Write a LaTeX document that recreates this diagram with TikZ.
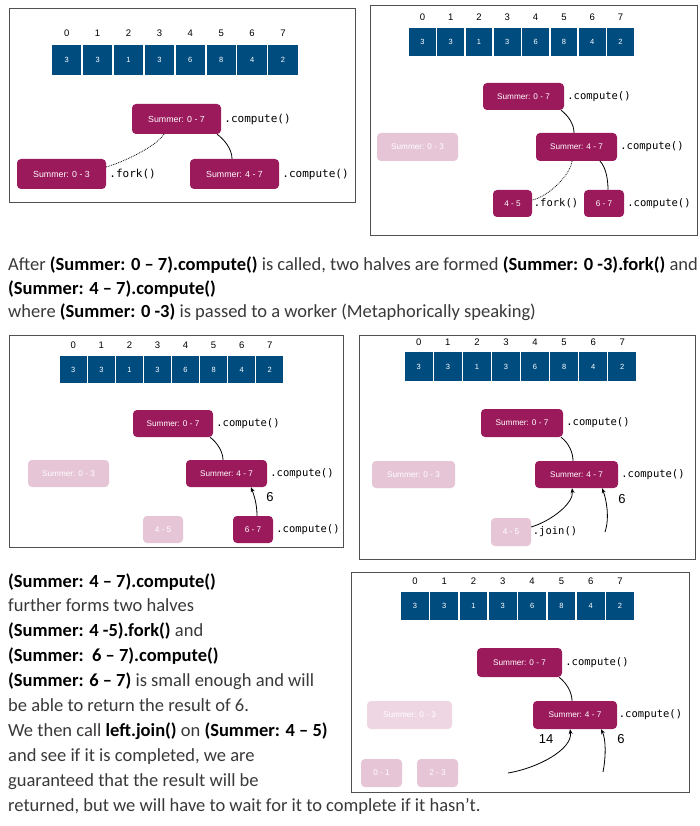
\documentclass[tikz,border=0pt]{standalone}
\usepackage{fontspec}
\setmainfont{Carlito}
\newfontfamily\helv{Liberation Sans}
\newfontfamily\monof{DejaVu Sans Mono}
\usetikzlibrary{calc,arrows.meta}
\definecolor{cellblue}{RGB}{0,76,127}
\definecolor{summag}{RGB}{155,26,92}
\definecolor{sumfade}{RGB}{230,197,215}
\definecolor{sumfadeb}{RGB}{238,214,227}
\definecolor{txtgray}{RGB}{59,56,56}
\definecolor{framegray}{RGB}{80,80,80}
\newcommand\bk[1]{{\color{black}\bfseries #1}}
\newcommand\cellrow[7]{%
  \foreach \v [count=\i from 0] in {3,3,1,3,6,8,4,2}{%
    \node[cell, minimum width=#4, minimum height=#5] (#1c\i) at ({#2+#4/2+\i*#6},{#3+#5/2}) {\v};
    \node[idx] (#1i\i) at ({#2+#4/2+\i*#6},#7) {\i};
  }}
\tikzset{
  cell/.style={fill=cellblue, text=white, inner sep=0pt, font=\helv\fontsize{7.5}{8}\selectfont},
  idx/.style={inner sep=0pt, font=\helv\fontsize{9.5}{10}\selectfont},
  sm/.style={fill=summag, rounded corners=4pt, text=white, inner sep=0pt, font=\helv\fontsize{8.2}{9}\selectfont},
  fd/.style={sm, fill=sumfade},
  fdb/.style={sm, fill=sumfadeb},
  meth/.style={anchor=west, inner sep=0pt, font=\monof\fontsize{10.5}{12}\selectfont},
  frm/.style={draw=framegray, line width=1pt},
  conn/.style={line width=0.8pt},
  dotconn/.style={line width=0.8pt, densely dotted},
  arr/.style={line width=0.8pt, -{Stealth[length=5pt,width=4pt]}},
  num/.style={inner sep=0pt, font=\helv\fontsize{13}{14}\selectfont},
  para/.style={anchor=base west, inner sep=0pt, text=txtgray, font=\fontsize{18.5}{22}\selectfont}
}
\begin{document}
\begin{tikzpicture}[x=1pt,y=-1pt]
\useasboundingbox (0,0) rectangle (699,826);
\fill[white] (0,0) rectangle (699,826);

% ---------- Panel 1 ----------
\draw[frm] (9,9) rectangle (355,203);
\cellrow{p1}{52}{45}{29.4}{30}{30.9}{33}
\node[sm, minimum width=89, minimum height=30, font=\helv\fontsize{8.8}{10}\selectfont] (a07) at (176.5,119) {Summer: 0 - 7};
\node[sm, minimum width=89, minimum height=30, font=\helv\fontsize{8.8}{10}\selectfont] (a03) at (61.5,174) {Summer: 0 - 3};
\node[sm, minimum width=89, minimum height=30, font=\helv\fontsize{8.8}{10}\selectfont] (a47) at (234.5,174) {Summer: 4 - 7};
\node[meth, font=\monof\fontsize{11}{12}\selectfont] (a07m) at ([xshift=3pt]a07.east) {.compute()};
\node[meth, font=\monof\fontsize{11}{12}\selectfont] (a03m) at ([xshift=3pt]a03.east) {.fork()};
\node[meth, font=\monof\fontsize{11}{12}\selectfont] (a47m) at ([xshift=3pt]a47.east) {.compute()};
\draw[dotconn] ([xshift=-12.5pt]a07.south) .. controls +(-8,12) and +(20,-6) .. ([yshift=7pt]a03.east);
\draw[conn] ([xshift=40.5pt]a07.south) .. controls +(7,5) and +(0,-10) .. ([xshift=-2.5pt]a47.north);

% ---------- Panel 2 ----------
\draw[frm] (370,6) rectangle (697,235);
\cellrow{p2}{409}{28}{26.8}{28}{28.3}{17}
\node[sm, minimum width=81, minimum height=27] (b07) at (523.5,96.5) {Summer: 0 - 7};
\node[fd, minimum width=81, minimum height=28] (b03) at (417.5,147) {Summer: 0 - 3};
\node[sm, minimum width=81, minimum height=28] (b47) at (576.5,147) {Summer: 4 - 7};
\node[sm, minimum width=39, minimum height=27] (b45) at (512.5,203.5) {4 - 5};
\node[sm, minimum width=40, minimum height=27] (b67) at (604,203.5) {6 - 7};
\node[meth] (b07m) at ([xshift=3pt]b07.east) {.compute()};
\node[meth] (b47m) at ([xshift=3pt]b47.east) {.compute()};
\node[meth] (b45m) at ([xshift=1.5pt]b45.east) {.fork()};
\node[meth] (b67m) at ([xshift=3pt]b67.east) {.compute()};
\draw[conn] ([xshift=37.5pt]b07.south) .. controls +(8,6) and +(0,-8) .. ([xshift=-2.5pt]b47.north);
\draw[dotconn] ([xshift=-4.5pt]b47.south) .. controls +(-2,15) and +(15,-3) .. ([yshift=3.5pt]b45.east);
\draw[conn] ([xshift=23.5pt]b47.south) .. controls +(6,6) and +(0,-10) .. ([xshift=4pt]b67.north);

% ---------- Panel 3 ----------
\draw[frm] (9,335) rectangle (343,547);
\cellrow{p3}{60}{356}{26.6}{27}{28.06}{345}
\node[sm, minimum width=80, minimum height=27] (c07) at (173,423.5) {Summer: 0 - 7};
\node[fd, minimum width=81, minimum height=27] (c03) at (68.5,473.5) {Summer: 0 - 3};
\node[sm, minimum width=81, minimum height=27] (c47) at (226.5,473.5) {Summer: 4 - 7};
\node[fd, minimum width=40, minimum height=27] (c45) at (163,529.5) {4 - 5};
\node[sm, minimum width=40, minimum height=27] (c67) at (253,529.5) {6 - 7};
\node[meth] (c07m) at ([xshift=3pt]c07.east) {.compute()};
\node[meth] (c47m) at ([xshift=3pt]c47.east) {.compute()};
\node[meth] (c67m) at ([xshift=3pt]c67.east) {.compute()};
\node[num] (c6) at (270,497) {6};
\draw[conn] ([xshift=37pt]c07.south) .. controls +(7,5) and +(0,-8) .. ([xshift=-3.5pt]c47.north);
\draw[arr] ([xshift=4pt]c67.north) .. controls +(0,-12) and +(3,8) .. ([xshift=24.5pt]c47.south);

% ---------- Panel 4 ----------
\draw[frm] (359,335) rectangle (695,559);
\cellrow{p4}{405}{352}{27.6}{29}{29.06}{342}
\node[sm, minimum width=82, minimum height=28] (d07) at (522,423) {Summer: 0 - 7};
\node[fd, minimum width=83, minimum height=27] (d03) at (413.5,474.5) {Summer: 0 - 3};
\node[sm, minimum width=83, minimum height=27] (d47) at (576.5,474.5) {Summer: 4 - 7};
\node[fd, minimum width=40, minimum height=28] (d45) at (511,532) {4 - 5};
\node[meth] (d07m) at ([xshift=3pt]d07.east) {.compute()};
\node[meth] (d47m) at ([xshift=3pt]d47.east) {.compute()};
\node[meth] (d45m) at ([xshift=1.5pt]d45.east) {.join()};
\node[num] (d6) at (622,499) {6};
\coordinate (d6s) at (605,532);
\draw[conn] ([xshift=39pt]d07.south) .. controls +(8,6) and +(0,-8) .. ([xshift=-3.5pt]d47.north);
\draw[arr] ([yshift=5pt]d45.east) .. controls +(20,-6) and +(2,15) .. ([xshift=-4.5pt]d47.south);
\draw[arr] (d6s) .. controls +(5,-15) and +(4,10) .. ([xshift=25.5pt]d47.south);

% ---------- Panel 5 ----------
\draw[frm] (351,572) rectangle (689,792);
\cellrow{p5}{401}{592}{27.8}{28}{29.3}{581}
\node[sm, minimum width=85, minimum height=29] (e07) at (519.5,662.5) {Summer: 0 - 7};
\node[fdb, minimum width=85, minimum height=28] (e03) at (409.5,715) {Summer: 0 - 3};
\node[sm, minimum width=84, minimum height=28] (e47) at (575,715) {Summer: 4 - 7};
\node[fd, minimum width=41, minimum height=28] (e01) at (381.5,773) {0 - 1};
\node[fd, minimum width=41, minimum height=28] (e23) at (437.5,773) {2 - 3};
\node[meth] (e07m) at ([xshift=3pt]e07.east) {.compute()};
\node[meth] (e47m) at ([xshift=1.5pt]e47.east) {.compute()};
\node[num] (e14) at (546,739) {14};
\node[num] (e6) at (621,739) {6};
\coordinate (e14s) at (508,773);
\coordinate (e6s) at (603,772);
\draw[conn] ([xshift=39.5pt]e07.south) .. controls +(8,6) and +(0,-8) .. ([xshift=-3pt]e47.north);
\draw[arr] (e14s) .. controls +(30,-5) and +(3,20) .. ([xshift=-5pt]e47.south);
\draw[arr] (e6s) .. controls +(3,-15) and +(5,10) .. ([xshift=26pt]e47.south);

% ---------- Text ----------
\node[para] (t1) at (8,270) {After \bk{(Summer: 0 – 7).compute()} is called, two halves are formed \bk{(Summer: 0 -3).fork()} and};
\node[para] (t2) at (8,294) {\bk{(Summer: 4 – 7).compute()}};
\node[para] (t3) at (8,317) {where \bk{(Summer: 0 -3)} is passed to a worker (Metaphorically speaking)};

\node[para] (u1) at (8,587) {\bk{(Summer: 4 – 7).compute()}};
\node[para] (u2) at (8,611) {further forms two halves};
\node[para] (u3) at (8,636) {\bk{(Summer: 4 -5).fork()} and};
\node[para] (u4) at (8,661) {\bk{(Summer:\ \ 6 – 7).compute()}};
\node[para] (u5) at (8,686) {\bk{(Summer: 6 – 7)} is small enough and will};
\node[para] (u6) at (8,711) {be able to return the result of 6.};
\node[para] (u7) at (8,736) {We then call \bk{left.join()} on \bk{(Summer: 4 – 5)}};
\node[para] (u8) at (8,761) {and see if it is completed, we are};
\node[para] (u9) at (8,786) {guaranteed that the result will be};
\node[para] (u10) at (8,811) {returned, but we will have to wait for it to complete if it hasn’t.};
\end{tikzpicture}
\end{document}
